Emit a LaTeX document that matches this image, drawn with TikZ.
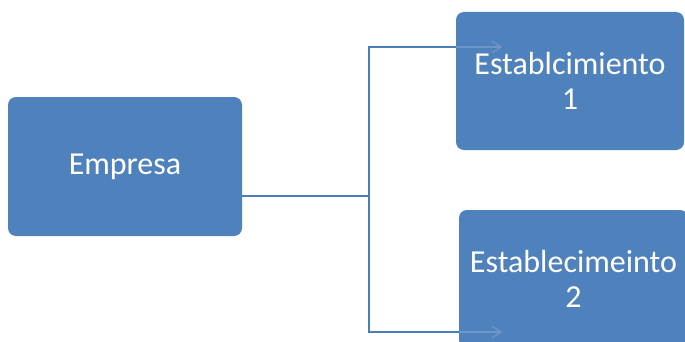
\documentclass[tikz,border=0pt]{standalone}
\usepackage{fontspec}
\setmainfont{Carlito}
\usetikzlibrary{arrows.meta}
\definecolor{boxblue}{HTML}{4F81BD}
\definecolor{lineblue}{HTML}{4A7EBB}
\definecolor{innerblue}{HTML}{6E96C8}
\tikzset{
  box/.style={fill=boxblue, draw=none, rounded corners=8pt, text=white, align=center,
    font=\fontsize{32pt}{35pt}\selectfont, inner sep=0pt},
  conn/.style={draw=lineblue, line width=1.5pt},
  innerconn/.style={draw=innerblue, line width=1.2pt, -{Straight Barb[length=9pt,width=12pt]}}
}
\begin{document}
\begin{tikzpicture}[x=1pt,y=1pt]
\clip (0,0) rectangle (685,341);
\useasboundingbox (0,0) rectangle (685,341);
\fill[white] (0,0) rectangle (685,341);
\node[box, minimum width=234pt, minimum height=139pt] (emp) at (125,174.5) {Empresa};
\node[box, minimum width=228pt, minimum height=138pt] (b1) at (570,260) {Establcimiento\\1};
\node[box, minimum width=229pt, minimum height=138pt] (b2) at (573.5,62) {Establecimeinto\\2};
\coordinate (j) at (369,145);
\coordinate (t1) at (502,294);
\coordinate (t2) at (502,9);
\draw[conn] (emp.east |- j) -- (j) |- (b1.west |- t1);
\draw[conn] (j) |- (b2.west |- t2);
\draw[innerconn] (b1.west |- t1) -- (t1);
\draw[innerconn] (b2.west |- t2) -- (t2);
\end{tikzpicture}
\end{document}
